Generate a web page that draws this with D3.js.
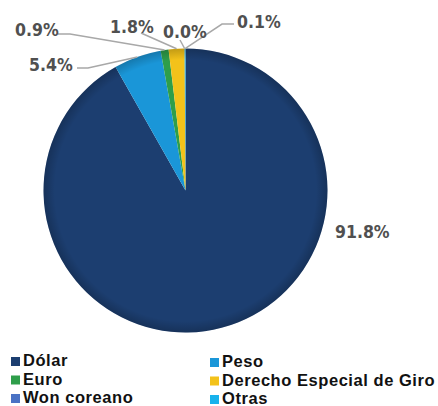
<!DOCTYPE html>
<html><head><meta charset="utf-8">
<script src="https://cdn.jsdelivr.net/npm/d3@7"></script>
<style>body{margin:0;background:#fff}svg{display:block}</style>
</head><body>
<script>
const categories = ["Dólar", "Peso", "Euro", "Derecho Especial de Giro", "Won coreano", "Otras"];
const values = [91.8, 5.4, 0.9, 1.8, 0.0, 0.1];
const labels = ["91.8%", "5.4%", "0.9%", "1.8%", "0.0%", "0.1%"];
const colors = ["#1c3e70", "#1a96d8", "#2e9e4a", "#f3c21a", "#4a72c4", "#18b2ec"];
const legendOrder = ["Dólar", "Euro", "Won coreano", "Peso", "Derecho Especial de Giro", "Otras"];

const W = 438, H = 406;
const cx = 185.5, cy = 190.5, r = 142;
const svg = d3.select("body").append("svg").attr("width", W).attr("height", H);

const defs = svg.append("defs");
const grad = defs.append("radialGradient").attr("id", "shade")
  .attr("cx", "50%").attr("cy", "50%").attr("r", "50%");
grad.append("stop").attr("offset", "0.92").attr("stop-color", "#000").attr("stop-opacity", 0);
grad.append("stop").attr("offset", "1").attr("stop-color", "#000").attr("stop-opacity", 0.2);

const pie = d3.pie().sort(null).value(d => d).startAngle(0).endAngle(2 * Math.PI);
const arcs = pie(values);
const arc = d3.arc().innerRadius(0).outerRadius(r);
const color = d3.scaleOrdinal().domain(categories).range(colors);

const g = svg.append("g").attr("transform", `translate(${cx},${cy})`);
g.selectAll("path.slice").data(arcs).join("path").attr("class", "slice")
  .attr("d", arc).attr("fill", (d, i) => color(categories[i]));
g.append("circle").attr("r", r).attr("fill", "url(#shade)");

// label anchor points (text start x, baseline y) and leader-line start points
const labelPos = [
  {x: 335, y: 238, lines: null},
  {x: 29, y: 71, lines: [[77, 68], [88, 68]]},
  {x: 15, y: 36, lines: [[58, 34], [70, 34]]},
  {x: 110, y: 33, lines: [[141, 33]]},
  {x: 163, y: 38, lines: [[180, 40]]},
  {x: 237, y: 28, lines: [[234, 24], [222, 24]]}
];
const outer = d3.arc().innerRadius(r).outerRadius(r);
const lines = svg.append("g");
arcs.forEach((d, i) => {
  const p = labelPos[i];
  if (p.lines) {
    const c = outer.centroid(d);
    const pts = p.lines.concat([[cx + c[0], cy + c[1]]]);
    lines.append("path").attr("d", d3.line()(pts))
      .attr("fill", "none").attr("stroke", "#a8a8a8").attr("stroke-width", 1.5);
  }
});
arcs.forEach((d, i) => {
  const p = labelPos[i];
  svg.append("text").attr("x", p.x).attr("y", p.y)
    .attr("font-family", "DejaVu Sans Condensed, DejaVu Sans, sans-serif")
    .attr("font-weight", "bold").attr("font-stretch", "condensed")
    .attr("font-size", 17.5).attr("fill", "#505050").text(labels[i]);
});

// legend
const leg = svg.append("g");
legendOrder.forEach((name, i) => {
  const col = Math.floor(i / 3), row = i % 3;
  const x = col === 0 ? 11 : 210;
  const y = (col === 0 ? 366 : 367) + row * 18.5;
  leg.append("rect").attr("x", x).attr("y", y - 9).attr("width", 9).attr("height", 9)
    .attr("fill", color(name));
  leg.append("text").attr("x", x + 12).attr("y", y)
    .attr("font-family", "Liberation Sans, Arial, sans-serif").attr("font-weight", "bold")
    .attr("font-size", 16.5).attr("letter-spacing", 0.55).attr("fill", "#111").text(name);
});
</script>
</body></html>
